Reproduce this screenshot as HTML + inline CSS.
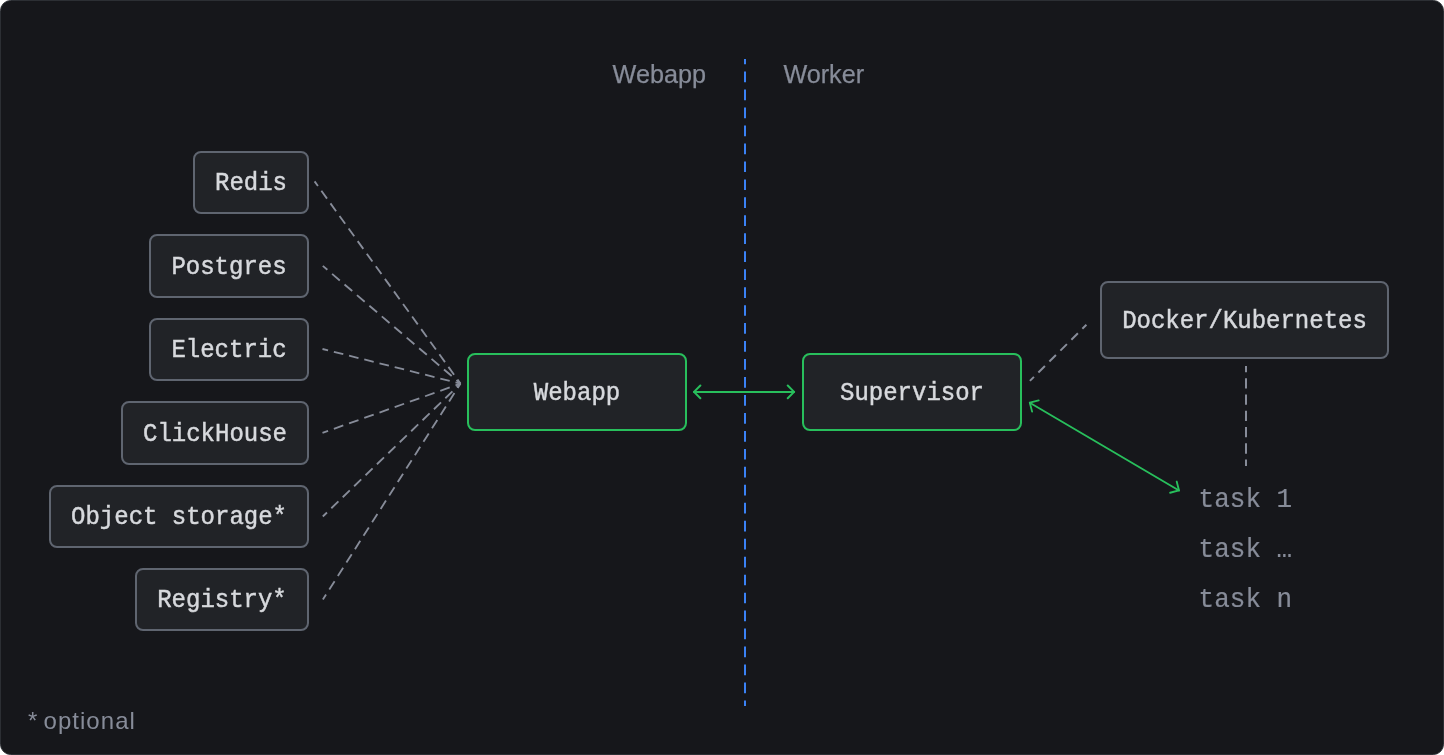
<!DOCTYPE html>
<html lang="en">
<head>
<meta charset="utf-8">
<title>Self-hosting architecture</title>
<style>
  html, body { margin: 0; padding: 0; background: #ffffff; }
  body { width: 1444px; height: 755px; overflow: hidden; }
  svg { display: block; will-change: transform; }
  .mono { font-family: "Liberation Mono", "DejaVu Sans Mono", monospace; font-size: 24px; }
  .sans { font-family: "Liberation Sans", "DejaVu Sans", sans-serif; }
  .box { fill: #212327; stroke: #5f6570; stroke-width: 2; }
  .gbox { fill: #212327; stroke: #28bf5c; stroke-width: 2; }
  .lbl { fill: #d7d9dd; text-anchor: middle; stroke: #d7d9dd; stroke-width: 0.45px; }
  .dim { fill: #878c99; }
  .sans.dim { stroke: #878c99; stroke-width: 0.25px; }
  .mono.dim { stroke: #878c99; stroke-width: 0.2px; }
  .dash { fill: none; stroke: #878c99; stroke-width: 2; }
  .blue { fill: none; stroke: #3b82f6; stroke-width: 2; }
  .grn { fill: none; stroke: #28bf5c; stroke-width: 2; stroke-linecap: round; stroke-linejoin: round; }
</style>
</head>
<body>
<svg width="1444" height="755" viewBox="0 0 1444 755">
  <rect x="0.5" y="0.5" width="1443" height="754" rx="10.2" ry="10.2" fill="#16171b" stroke="#2c2f34" stroke-width="1"/>

  <!-- section labels -->
  <text class="sans dim" x="612.6" y="82.8" font-size="25.2">Webapp</text>
  <text class="sans dim" x="783.4" y="82.8" font-size="25.2">Worker</text>
  <path class="blue" pathLength="647.58" stroke-dasharray="10.7 7.28" stroke-dashoffset="5.3" d="M745 58.9 L745 706.05"/>

  <!-- dependency connectors -->
  <path class="dash" style="stroke-width:1.85" pathLength="254" stroke-dasharray="9.8 6" stroke-dashoffset="4" d="M314.6 181.4 L460.5 383.6"/>
  <path class="dash" style="stroke-width:1.85" pathLength="175" stroke-dasharray="9.8 6" stroke-dashoffset="4" d="M322.8 265.9 L460.5 383.6"/>
  <path class="dash" style="stroke-width:1.85" pathLength="143.4" stroke-dasharray="9.8 6" stroke-dashoffset="4" d="M322.5 349 L460.5 383.6"/>
  <path class="dash" style="stroke-width:1.85" pathLength="143.4" stroke-dasharray="9.8 6" stroke-dashoffset="4" d="M322.5 432.9 L460.5 383.6"/>
  <path class="dash" style="stroke-width:1.85" pathLength="190.8" stroke-dasharray="9.8 6" stroke-dashoffset="4" d="M322.8 516.5 L460.5 383.6"/>
  <path class="dash" style="stroke-width:1.85" pathLength="254" stroke-dasharray="9.8 6" stroke-dashoffset="4" d="M322.9 599.5 L460.5 383.6"/>

  <!-- dependency boxes -->
  <rect class="box" x="194" y="152" width="114" height="61" rx="7"/>
  <text class="mono lbl" transform="translate(251 190.3) scale(1 1.04)">Redis</text>
  <rect class="box" x="150" y="235" width="158" height="62" rx="7"/>
  <text class="mono lbl" transform="translate(229 273.8) scale(1 1.04)">Postgres</text>
  <rect class="box" x="150" y="319" width="158" height="61" rx="7"/>
  <text class="mono lbl" transform="translate(229 357.3) scale(1 1.04)">Electric</text>
  <rect class="box" x="122" y="402" width="186" height="62" rx="7"/>
  <text class="mono lbl" transform="translate(215 440.8) scale(1 1.04)">ClickHouse</text>
  <rect class="box" x="50" y="486" width="258" height="61" rx="7"/>
  <text class="mono lbl" transform="translate(179 524.3) scale(1 1.04)">Object storage*</text>
  <rect class="box" x="136" y="569" width="172" height="61" rx="7"/>
  <text class="mono lbl" transform="translate(222 607.3) scale(1 1.04)">Registry*</text>

  <!-- webapp / supervisor -->
  <rect class="gbox" x="468" y="354" width="218" height="76" rx="7"/>
  <text class="mono lbl" transform="translate(577 399.8) scale(1 1.04)">Webapp</text>
  <rect class="gbox" x="803" y="354" width="218" height="76" rx="7"/>
  <text class="mono lbl" transform="translate(912 399.8) scale(1 1.04)">Supervisor</text>
  <path class="grn" style="stroke-width:2" d="M694 391.9 L794.1 391.9"/>
  <path class="grn" style="stroke-width:2" d="M700.36 398.26 L694 391.9 L700.36 385.54 M787.74 385.54 L794.1 391.9 L787.74 398.26"/>

  <!-- docker / kubernetes -->
  <rect class="box" x="1101" y="282" width="287" height="76" rx="7"/>
  <text class="mono lbl" transform="translate(1244.5 327.8) scale(1 1.04)">Docker/Kubernetes</text>
  <path class="dash" style="stroke-width:2" pathLength="81.2" stroke-dasharray="9.4 6.4" stroke-dashoffset="3.6" d="M1029.9 380.9 L1086.4 324.8"/>
  <path class="dash" pathLength="97.2" stroke-dasharray="10 5.8" stroke-dashoffset="3.8" d="M1246 365.9 L1246 466"/>
  <path class="grn" style="stroke-width:1.85" d="M1029.8 402.7 L1179 490.45"/>
  <path class="grn" style="stroke-width:1.85" d="M1032.11 411.61 L1029.8 402.7 L1038.71 400.39 M1176.69 481.54 L1179 490.45 L1170.09 492.76"/>

  <!-- tasks -->
  <text class="mono dim" style="font-size:26px" transform="translate(1198.6 507.1) scale(1 1.04)">task 1</text>
  <text class="mono dim" style="font-size:26px" transform="translate(1198.6 557.1) scale(1 1.04)">task …</text>
  <text class="mono dim" style="font-size:26px" transform="translate(1198.6 607.1) scale(1 1.04)">task n</text>

  <!-- footnote -->
  <text class="sans dim" style="stroke:none" x="28" y="729.2" font-size="24">* <tspan dx="-0.5" letter-spacing="1.04">optional</tspan></text>
</svg>
</body>
</html>
